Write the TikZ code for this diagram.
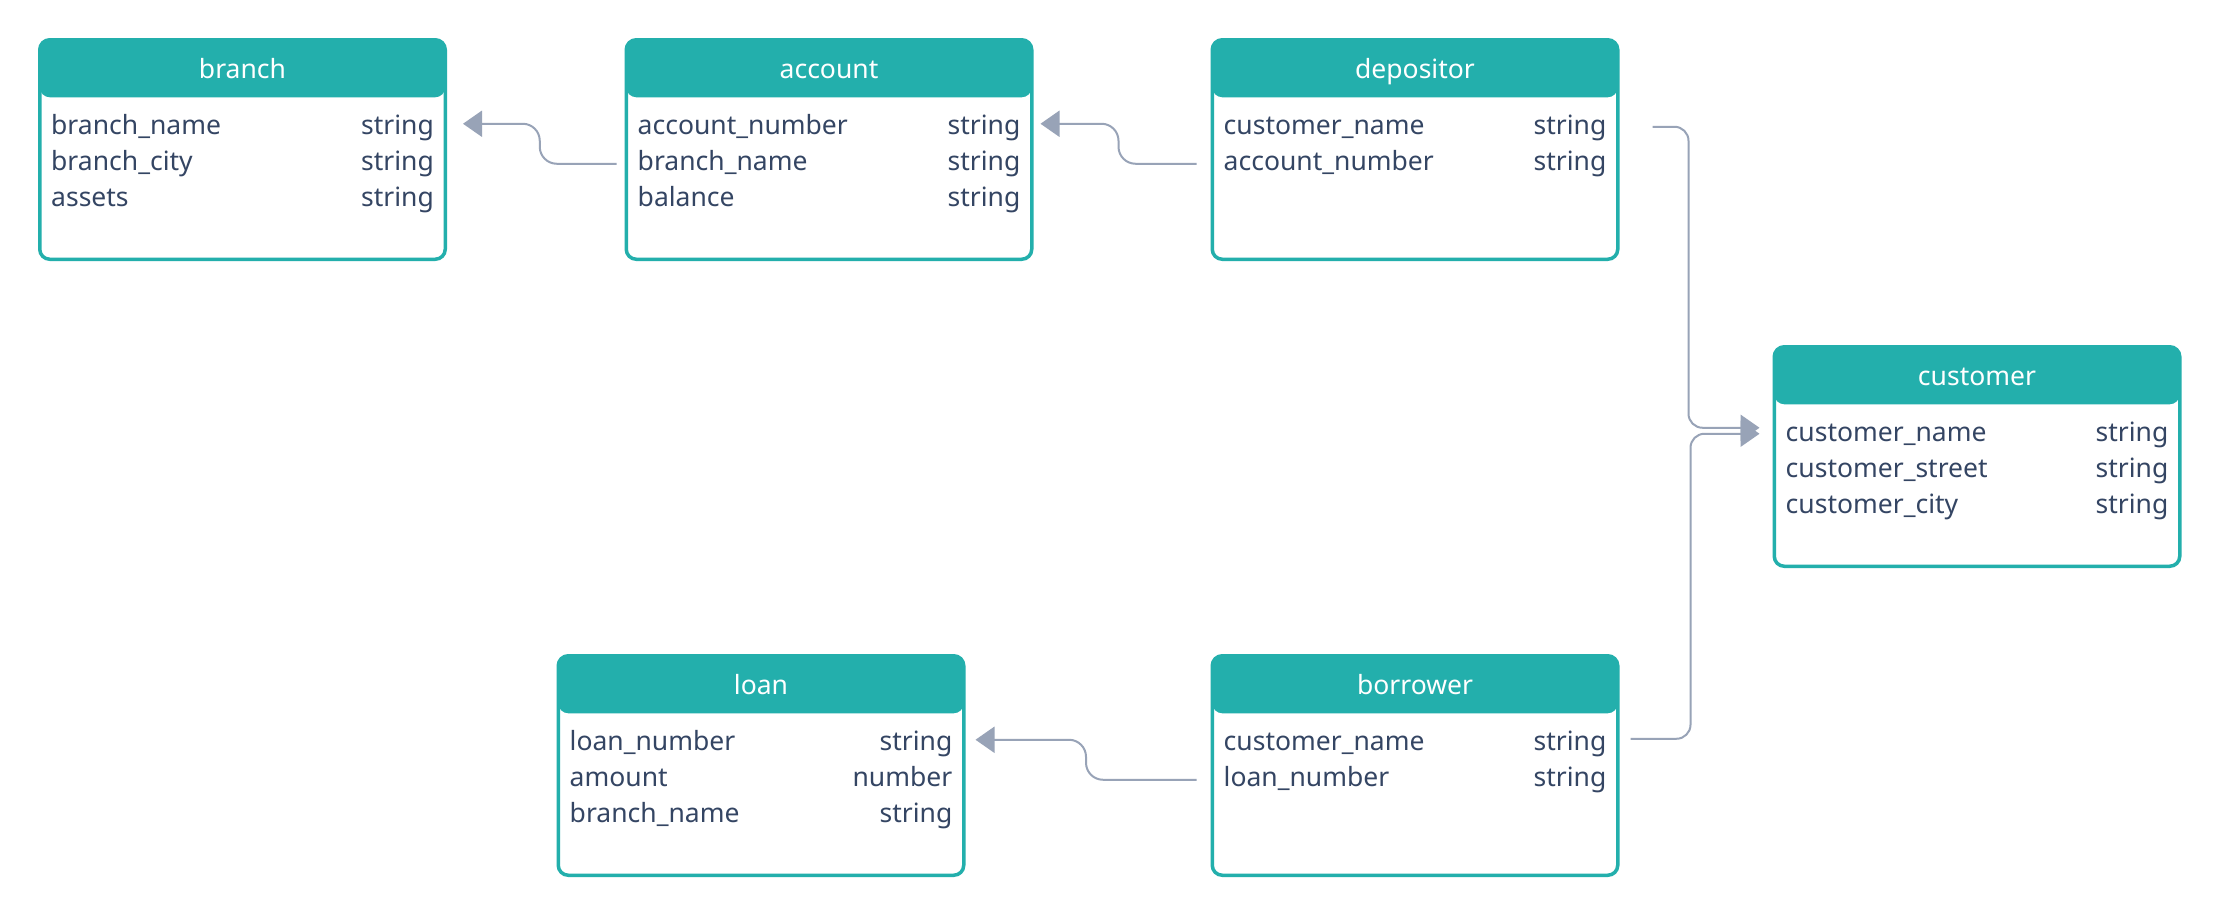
\documentclass[tikz,border=0pt]{standalone}
\usepackage{fontspec}
\setmainfont{Noto Sans}
\usetikzlibrary{arrows.meta,calc}
\definecolor{hdr}{HTML}{23AFAC}
\definecolor{ink}{HTML}{344563}
\definecolor{wire}{HTML}{98A3B7}
\tikzset{
  entity/.style={draw=hdr, fill=white, line width=3.5pt, rounded corners=10pt,
    minimum width=405.5pt, minimum height=219.5pt, inner sep=0pt, outer sep=0pt,
    anchor=north west,
    path picture={\fill[hdr] (path picture bounding box.north west)
      rectangle ([yshift=-57.5pt]path picture bounding box.north east);}},
  etitle/.style={text=white, font=\fontsize{26.5}{32}\selectfont, anchor=base, inner sep=0pt},
  field/.style={text=ink, font=\fontsize{26.5}{32}\selectfont, anchor=base west,
    inner sep=0pt, text height=20pt, text depth=6pt},
  ftype/.style={field, anchor=base east},
  link/.style={draw=wire, line width=2pt, rounded corners=14pt,
    -{Triangle[length=19pt,width=26pt]}},
  bend link/.style={link, rounded corners=17pt},
}
% entity box: name, left, top, title
\newcommand\erbox[4]{%
  \node[entity] (#1) at (#2+1.75,#3+1.75) {};
  \node[etitle] (#1-title) at ([yshift=-38.25pt]#1.north) {#4};}
% attribute row: entity, row id, offset from top, field name, field type
\newcommand\errow[5]{%
  \node[field] (#1-#2) at ([xshift=11.25pt,yshift=-#3pt]#1.north west) {#4};
  \node[ftype] (#1-#2t) at ([xshift=-11.25pt,yshift=-#3pt]#1.north east) {#5};}
\begin{document}
\begin{tikzpicture}[x=1pt,y=-1pt]
\useasboundingbox[fill=white] (0,0) rectangle (2220,914);

\erbox{branch}{38}{38}{branch}
\errow{branch}{r1}{95}{branch\_name}{string}
\errow{branch}{r2}{131}{branch\_city}{string}
\errow{branch}{r3}{167}{assets}{string}

\erbox{account}{624.5}{38}{account}
\errow{account}{r1}{95}{account\_number}{string}
\errow{account}{r2}{131}{branch\_name}{string}
\errow{account}{r3}{167}{balance}{string}

\erbox{depositor}{1210.5}{38}{depositor}
\errow{depositor}{r1}{95}{customer\_name}{string}
\errow{depositor}{r2}{131}{account\_number}{string}

\erbox{customer}{1772.5}{345}{customer}
\errow{customer}{r1}{95}{customer\_name}{string}
\errow{customer}{r2}{131}{customer\_street}{string}
\errow{customer}{r3}{167}{customer\_city}{string}

\erbox{loan}{556.5}{654}{loan}
\errow{loan}{r1}{95}{loan\_number}{string}
\errow{loan}{r2}{131}{amount}{number}
\errow{loan}{r3}{167}{branch\_name}{string}

\erbox{borrower}{1210.5}{654}{borrower}
\errow{borrower}{r1}{95}{customer\_name}{string}
\errow{borrower}{r2}{131}{loan\_number}{string}

% connector end points
\coordinate (acc-out) at ([xshift=-21pt]account-r2.west);
\coordinate (br-in)   at ([xshift=29pt,yshift=4pt]branch-r1t.east);
\coordinate (dep-out) at ([xshift=-27pt]depositor-r2.west);
\coordinate (acc-in)  at ([xshift=20pt,yshift=4pt]account-r1t.east);
\coordinate (bor-out) at ([xshift=-27pt]borrower-r2.west);
\coordinate (loan-in) at ([xshift=23pt,yshift=4pt]loan-r1t.east);
\coordinate (dep-cust) at ([xshift=46pt,yshift=1pt]depositor-r1t.east);
\coordinate (bor-cust) at ([xshift=24pt,yshift=5pt]borrower-r1t.east);
\coordinate (cust-in-a) at ([xshift=-26pt,yshift=7pt]customer-r1.west);
\coordinate (cust-in-b) at ([xshift=-26pt,yshift=1pt]customer-r1.west);
% midpoints where the short links step up
\coordinate (m-ab) at ($(acc-out)!.5!(br-in)$);
\coordinate (m-da) at ($(dep-out)!.5!(acc-in)$);
\coordinate (m-bl) at ($(bor-out)!.5!(loan-in)$);

\draw[bend link] (acc-out) -- (m-ab |- acc-out) -- (m-ab |- br-in) -- (br-in);
\draw[bend link] (dep-out) -- (m-da |- dep-out) -- (m-da |- acc-in) -- (acc-in);
\draw[bend link] (bor-out) -- (m-bl |- bor-out) -- (m-bl |- loan-in) -- (loan-in);
\draw[link] (dep-cust) -| ([xshift=-71pt]cust-in-a) -- (cust-in-a);
\draw[link] (bor-cust) -| ([xshift=-69pt]cust-in-b) -- (cust-in-b);
\end{tikzpicture}
\end{document}
